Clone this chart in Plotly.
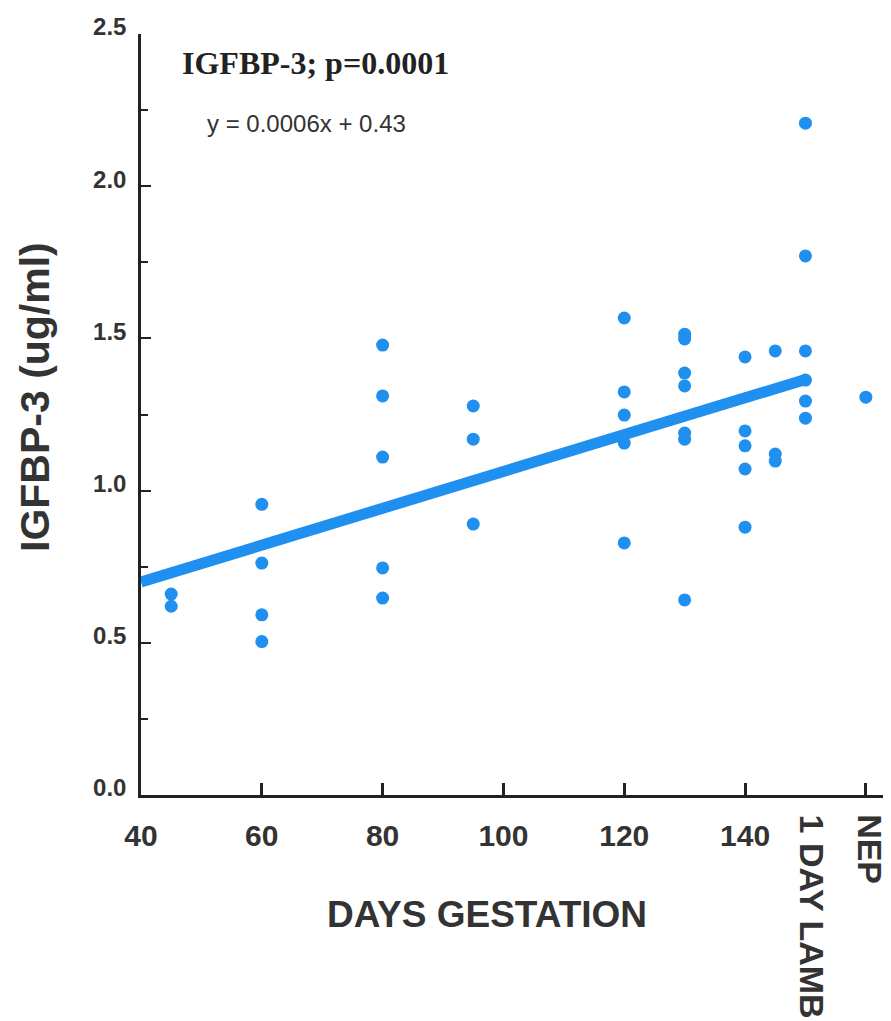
import plotly.graph_objects as go

# ---- data ----
days = [45, 45,
        60, 60, 60, 60,
        80, 80, 80, 80, 80,
        95, 95, 95,
        120, 120, 120, 120, 120,
        130, 130, 130, 130, 130, 130, 130,
        140, 140, 140, 140, 140,
        145, 145, 145,
        150, 150, 150, 150, 150, 150,
        160]
igfbp3 = [0.66, 0.62,
          0.955, 0.762, 0.592, 0.504,
          1.478, 1.311, 1.110, 0.746, 0.647,
          1.278, 1.169, 0.890,
          1.567, 1.324, 1.248, 1.156, 0.828,
          1.514, 1.498, 1.386, 1.344, 1.189, 1.169, 0.641,
          1.439, 1.196, 1.147, 1.071, 0.880,
          1.459, 1.120, 1.097,
          2.207, 1.771, 1.459, 1.363, 1.294, 1.238,
          1.307]
fit_x = [40, 150]
fit_y = [0.70, 1.365]

x_tickvals = [40, 60, 80, 100, 120, 140, 160]
x_ticktext = ["40", "60", "80", "100", "120", "140", ""]
special_x = [150, 160]
special_labels = ["1 DAY LAMB", "NEP"]
y_tickvals = [0.0, 0.5, 1.0, 1.5, 2.0, 2.5]
y_ticktext = ["0.0", "0.5", "1.0", "1.5", "2.0", "2.5"]

title_text = "IGFBP-3; p=0.0001"
equation_text = "y = 0.0006x + 0.43"
x_title = "DAYS GESTATION"
y_title = "IGFBP-3 (ug/ml)"

# ---- figure (page body has an 8px margin, so the figure is offset) ----
OFF = 8
W, H = 891 - OFF, 1021 - OFF
ML = 141 - OFF
MT = 34 - OFF
MR = W - (887 - OFF)
MB = H - (795 - OFF)
PW, PH = W - ML - MR, H - MT - MB

def px(xpix):          # page pixel -> paper fraction
    return (xpix - OFF - ML) / PW

def py(ypix):
    return (MT + PH - (ypix - OFF)) / PH

BLUE = "#1f8ff0"
AXIS = "#222222"
SANS = "Liberation Sans, Arial, sans-serif"
SERIF = "Liberation Serif, Times New Roman, serif"

fig = go.Figure()
fig.add_trace(go.Scatter(x=fit_x, y=fit_y, mode="lines",
                         line=dict(color=BLUE, width=11),
                         hoverinfo="skip", showlegend=False))
fig.add_trace(go.Scatter(x=days, y=igfbp3, mode="markers",
                         marker=dict(color=BLUE, size=13, line=dict(width=0)),
                         showlegend=False, cliponaxis=False))

fig.update_layout(
    width=W, height=H,
    margin=dict(l=ML, r=MR, t=MT, b=MB, pad=0),
    paper_bgcolor="white", plot_bgcolor="white",
    showlegend=False,
    xaxis=dict(range=[40, 163.5], showgrid=False, zeroline=False,
               showline=True, linecolor=AXIS, linewidth=2.5,
               tickmode="array", tickvals=x_tickvals, ticktext=x_ticktext,
               ticks="inside", ticklen=12, tickwidth=2.5, tickcolor=AXIS,
               tickfont=dict(family=SANS, size=30, color="#333333", weight="bold"),
               ticklabelstandoff=12),
    yaxis=dict(range=[0, 2.5], showgrid=False, zeroline=False,
               showline=True, linecolor=AXIS, linewidth=2.5,
               tickmode="array", tickvals=y_tickvals, ticktext=y_ticktext,
               ticks="inside", ticklen=10, tickwidth=2, tickcolor=AXIS,
               minor=dict(tickmode="linear", tick0=0, dtick=0.25, ticks="inside",
                          ticklen=7, tickwidth=2, tickcolor=AXIS),
               tickfont=dict(family=SANS, size=24, color="#333333", weight="bold"),
               ticklabelstandoff=7, ticklabelshift=-7),
)

annotations = [
    dict(text=title_text, xref="paper", yref="paper", x=px(180), y=py(63),
         xanchor="left", yanchor="middle", showarrow=False,
         font=dict(family=SERIF, size=32, color="#222222", weight="bold")),
    dict(text=equation_text, xref="paper", yref="paper", x=px(205), y=py(124),
         xanchor="left", yanchor="middle", showarrow=False,
         font=dict(family=SANS, size=24, color="#333333")),
    dict(text=x_title, xref="paper", yref="paper", x=px(487), y=py(914),
         xanchor="center", yanchor="middle", showarrow=False,
         font=dict(family=SANS, size=37, color="#333333", weight="bold")),
    dict(text=y_title, xref="paper", yref="paper", x=px(35), y=py(397),
         xanchor="center", yanchor="middle", showarrow=False, textangle=-90,
         font=dict(family=SANS, size=41, color="#333333", weight="bold")),
]
for sx, lab, ycen, xs in zip(special_x, special_labels, [917, 849], [7, 4]):
    annotations.append(dict(text=lab, xref="x", yref="paper", x=sx, y=py(ycen),
                            xanchor="center", yanchor="middle", showarrow=False,
                            textangle=90, xshift=xs,
                            font=dict(family=SANS, size=34, color="#333333", weight="bold")))
fig.update_layout(annotations=annotations)

fig.write_html("out.html")
